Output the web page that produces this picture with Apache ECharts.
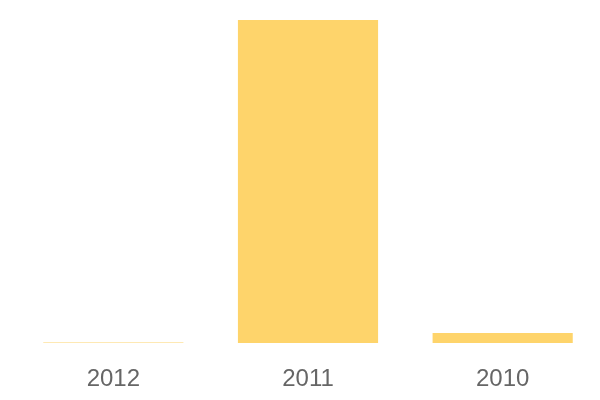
<!DOCTYPE html>
<html>
<head>
<meta charset="utf-8">
<script src="https://cdn.jsdelivr.net/npm/echarts@6/dist/echarts.min.js"></script>
<style>html,body{margin:0;padding:0;background:#fff}#c{width:600px;height:400px}</style>
</head>
<body>
<div id="c"></div>
<script>
const categories = ['2012', '2011', '2010'];
const values = [0.15, 100, 3.1];

const chart = echarts.init(document.getElementById('c'), null, {renderer: 'canvas'});
chart.setOption({
  animation: false,
  grid: {left: 16, right: 0, top: 20, bottom: 57, containLabel: false},
  xAxis: {
    type: 'category',
    data: categories,
    axisLine: {show: false},
    axisTick: {show: false},
    axisLabel: {color: '#666666', fontSize: 24, margin: 24, fontFamily: 'Liberation Sans, Arial, sans-serif'}
  },
  yAxis: {
    type: 'value',
    min: 0,
    max: 100,
    show: false,
    splitLine: {show: false}
  },
  series: [{
    type: 'bar',
    data: values,
    barCategoryGap: '28%',
    itemStyle: {color: '#fed46b'}
  }]
});
</script>
</body>
</html>
